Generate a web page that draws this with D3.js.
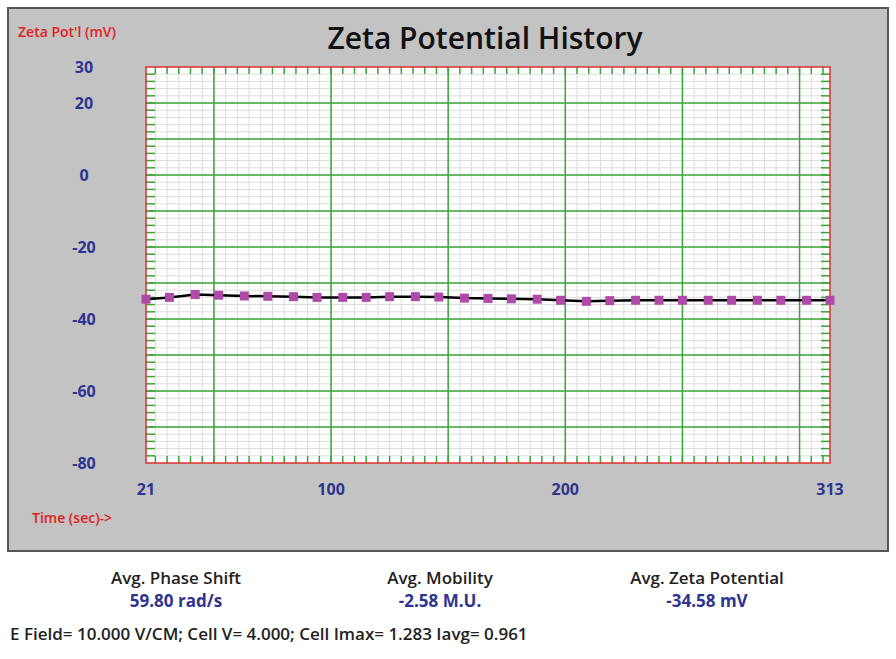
<!DOCTYPE html><html><head><script src="https://cdn.jsdelivr.net/npm/d3@7"></script>
<style>body{margin:0;background:#fff}</style></head><body><svg id="c" width="896" height="659"></svg>
<script>
const times=[21,31,42,52,63,73,84,94,105,115,125,136,146,157,167,177,188,198,209,219,230,240,250,261,271,282,292,303,313];
const zeta=[-34.5,-34.0,-33.2,-33.4,-33.6,-33.7,-33.8,-34.0,-34.0,-34.0,-33.8,-33.8,-33.9,-34.2,-34.3,-34.4,-34.5,-34.8,-35.1,-34.9,-34.8,-34.8,-34.8,-34.8,-34.8,-34.8,-34.8,-34.8,-34.8];
const xTickLabels=[21,100,200,313];
const yTickLabels=[30,20,0,-20,-40,-60,-80];
const stats=[["Avg. Phase Shift","59.80 rad/s"],["Avg. Mobility","-2.58 M.U."],["Avg. Zeta Potential","-34.58 mV"]];
const footer="E Field= 10.000 V/CM; Cell V= 4.000; Cell Imax= 1.283 Iavg= 0.961";
const F="Open Sans";
const svg=d3.select("#c");
svg.append("rect").attr("x",8).attr("y",8).attr("width",880).attr("height",543).attr("fill","#c3c3c3").attr("stroke","#555").attr("stroke-width",2);
const L=146,R=830,T=67,B=463;
const x=d3.scaleLinear().domain([21,313]).range([L,R]);
const y=d3.scaleLinear().domain([-80,30]).range([B,T]);
svg.append("rect").attr("x",L).attr("y",T).attr("width",R-L).attr("height",B-T).attr("fill","#fff");
const g=svg.append("g");
d3.range(25,313,5).forEach(v=>g.append("line").attr("x1",x(v)).attr("x2",x(v)).attr("y1",T).attr("y2",B).attr("stroke","#dcdcdc"));
d3.range(-78,30,2).forEach(v=>g.append("line").attr("x1",L).attr("x2",R).attr("y1",y(v)).attr("y2",y(v)).attr("stroke","#dcdcdc"));
d3.range(25,313,5).forEach(v=>{[[T,T+7],[B-7,B]].forEach(([a,b])=>g.append("line").attr("x1",x(v)).attr("x2",x(v)).attr("y1",a).attr("y2",b).attr("stroke","#3aa63a").attr("stroke-width",1.5));});
d3.range(-78,30,2).forEach(v=>{[[L,L+9],[R-9,R]].forEach(([a,b])=>g.append("line").attr("x1",a).attr("x2",b).attr("y1",y(v)).attr("y2",y(v)).attr("stroke","#3aa63a").attr("stroke-width",1.5));});
d3.range(50,313,50).forEach(v=>g.append("line").attr("x1",x(v)).attr("x2",x(v)).attr("y1",T).attr("y2",B).attr("stroke","#3aa63a").attr("stroke-width",1.5));
d3.range(-70,30,10).forEach(v=>g.append("line").attr("x1",L).attr("x2",R).attr("y1",y(v)).attr("y2",y(v)).attr("stroke","#3aa63a").attr("stroke-width",1.5));
svg.append("rect").attr("x",L).attr("y",T).attr("width",R-L).attr("height",B-T).attr("fill","none").attr("stroke","#e03030").attr("stroke-width",1.5);
const pts=times.map((t,i)=>[t,zeta[i]]);
svg.append("path").attr("d",d3.line().x(d=>x(d[0])).y(d=>y(d[1]))(pts)).attr("fill","none").attr("stroke","#000").attr("stroke-width",2.5);
svg.selectAll(".p").data(pts).enter().append("rect").attr("x",d=>x(d[0])-4.5).attr("y",d=>y(d[1])-4.5).attr("width",9).attr("height",9).attr("fill","#b04aa8");
const blue="#2e3590";
yTickLabels.forEach(v=>svg.append("text").attr("x",84).attr("y",y(v)+6).attr("text-anchor","middle").attr("font-family",F).attr("font-weight","bold").attr("font-size",16).attr("fill",blue).text(v));
xTickLabels.forEach(v=>svg.append("text").attr("x",x(v)).attr("y",495).attr("text-anchor","middle").attr("font-family",F).attr("font-weight","bold").attr("font-size",16).attr("fill",blue).text(v));
svg.append("text").attr("x",18).attr("y",37).attr("font-family",F).attr("font-weight",600).attr("font-size",14).attr("fill","#e02020").text("Zeta Pot'l (mV)");
svg.append("text").attr("x",32).attr("y",523).attr("font-family",F).attr("font-weight",600).attr("font-size",14).attr("fill","#e02020").text("Time (sec)->");
svg.append("text").attr("x",485).attr("y",49).attr("text-anchor","middle").attr("font-family",F).attr("font-weight",600).attr("font-size",30).attr("fill","#111").text("Zeta Potential History");
[176,440,707].forEach((cx,i)=>{
svg.append("text").attr("x",cx).attr("y",584).attr("text-anchor","middle").attr("font-family",F).attr("font-weight",600).attr("font-size",17).attr("fill","#222").text(stats[i][0]);
svg.append("text").attr("x",cx).attr("y",607).attr("text-anchor","middle").attr("font-family",F).attr("font-weight","bold").attr("font-size",17).attr("fill",blue).text(stats[i][1]);});
svg.append("text").attr("x",10).attr("y",640).attr("font-family",F).attr("font-weight",600).attr("font-size",17).attr("fill","#222").text(footer);
</script></body></html>
